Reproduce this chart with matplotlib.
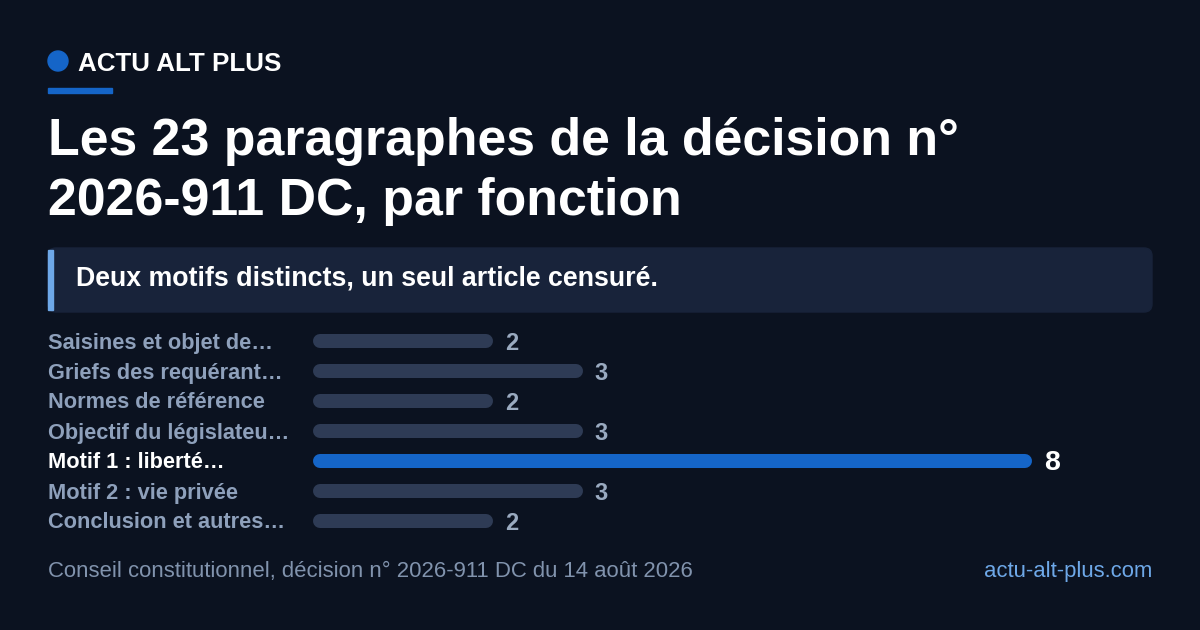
import matplotlib
matplotlib.use("Agg")
import matplotlib.pyplot as plt
from matplotlib.patches import FancyBboxPatch, Rectangle, Circle

categories = ["Saisines et objet de…", "Griefs des requérant…", "Normes de référence",
              "Objectif du législateu…", "Motif 1 : liberté…", "Motif 2 : vie privée",
              "Conclusion et autres…"]
values = [2, 3, 2, 3, 8, 3, 2]
highlight = 4

plt.rcParams['font.family'] = ['Liberation Sans', 'DejaVu Sans']
W, H = 1200, 630
BG = "#0b1220"
fig = plt.figure(figsize=(12, 6.3), dpi=100, facecolor=BG)
ov = fig.add_axes([0, 0, 1, 1]); ov.set_xlim(0, W); ov.set_ylim(H, 0); ov.axis('off')

ov.add_patch(Circle((58, 61), 10, color="#1565c8"))
ov.text(78, 64, "ACTU ALT PLUS", color="white", fontsize=18.7, fontweight='bold', va='center')
ov.add_patch(Rectangle((48, 88), 64, 5, color="#1565c8"))
ov.text(48, 141, "Les 23 paragraphes de la décision n°", color="white", fontsize=37.4, fontweight='bold', va='center')
ov.text(48, 201, "2026-911 DC, par fonction", color="white", fontsize=37.4, fontweight='bold', va='center')
ov.add_patch(FancyBboxPatch((48, 248), 1104, 64, boxstyle="round,pad=0,rounding_size=8", color="#18233a"))
ov.add_patch(Rectangle((48, 250), 5, 60, color="#6ea8e8"))
ov.text(76, 279, "Deux motifs distincts, un seul article censuré.", color="white", fontsize=19.3, fontweight='bold', va='center')
ov.text(48, 572, "Conseil constitutionnel, décision n° 2026-911 DC du 14 août 2026", color="#8193ad", fontsize=15.9, va='center')
ov.text(1152, 572, "actu-alt-plus.com", color="#6ea8e8", fontsize=15.9, va='center', ha='right')

x0, x1 = 313, 1032
y_top, y_bot = 326, 536
ax = fig.add_axes([x0 / W, 1 - y_bot / H, (x1 - x0) / W, (y_bot - y_top) / H])
ax.set_facecolor('none'); ax.axis('off')
ax.set_xlim(0, 8); ax.set_ylim(len(values) - 0.5, -0.5)
ppu = (x1 - x0) / 8
r = 7 / ppu
for i, (c, v) in enumerate(zip(categories, values)):
    hl = i == highlight
    col = "#1565c8" if hl else "#2e3b55"
    ax.plot([r, v - r], [i, i], color=col, lw=10.1, solid_capstyle='round')
    ax.text(v + 12 / ppu, i + 0.08, str(v), color="white" if hl else "#9aaac0",
            fontsize=20.5 if hl else 17, fontweight='bold', va='center')
    ov.text(48, y_top + 17 + 30 * i, c, color="white" if hl else "#8ea0bb",
            fontsize=15.7, fontweight='bold', va='center')

fig.savefig("out.png", facecolor=BG)
